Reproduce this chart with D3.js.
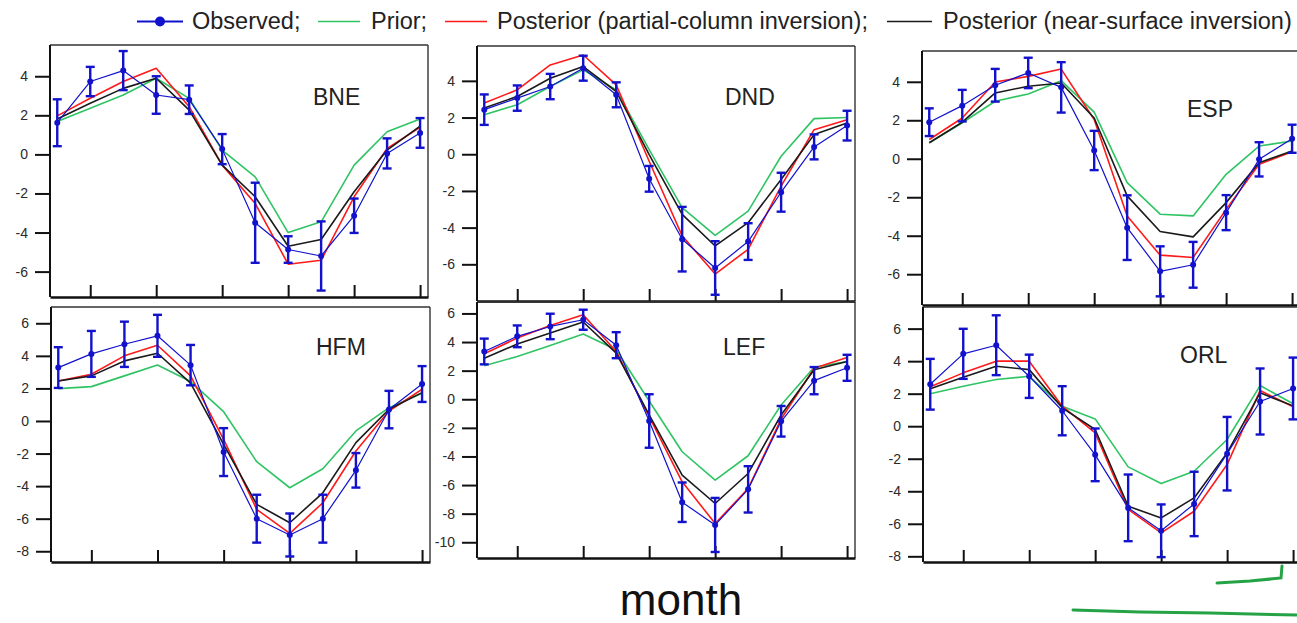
<!DOCTYPE html>
<html>
<head>
<meta charset="utf-8">
<script src="https://cdn.jsdelivr.net/npm/d3@7/dist/d3.min.js"></script>
<style>
body { margin: 0; background: #fff; }
svg { display: block; font-family: 'Liberation Sans', Arial, sans-serif; }
</style>
</head>
<body>
<div id="chart"></div>
<script>
var months = [1, 2, 3, 4, 5, 6, 7, 8, 9, 10, 11, 12]
var sites = ['BNE', 'DND', 'ESP', 'HFM', 'LEF', 'ORL']
var xTicks = [2, 4, 6, 8, 10, 12]

// observed monthly means (blue dots) and their error bar half-widths
var observed = {
    BNE: [1.62, 3.73, 4.29, 3.04, 2.8, 0.27, -3.5, -4.87, -5.2, -3.14, 0.05, 1.1],
    DND: [2.43, 3.06, 3.69, 4.69, 3.24, -1.34, -4.63, -6.2, -4.76, -2.07, 0.4, 1.56],
    ESP: [1.9, 2.76, 3.82, 4.46, 3.71, 0.43, -3.58, -5.85, -5.51, -2.8, -0.03, 1.04],
    HFM: [3.28, 4.12, 4.71, 5.23, 3.43, -1.91, -6.0, -7.0, -6.0, -3.03, 0.7, 2.27],
    LEF: [3.34, 4.4, 5.09, 5.56, 3.78, -1.52, -7.2, -8.79, -6.3, -1.54, 1.3, 2.2],
    ORL: [2.58, 4.45, 4.98, 3.07, 0.95, -1.76, -5.02, -6.43, -4.78, -1.69, 1.52, 2.32]
}
var observedErr = {
    BNE: [1.2, 0.75, 1.0, 0.96, 0.73, 0.77, 2.05, 0.68, 1.77, 0.88, 0.77, 0.76],
    DND: [0.83, 0.69, 0.69, 0.68, 0.68, 0.7, 1.76, 1.46, 1.0, 1.06, 0.68, 0.81],
    ESP: [0.72, 0.82, 0.85, 0.79, 1.31, 1.02, 1.68, 1.3, 1.19, 0.91, 0.89, 0.73],
    HFM: [1.25, 1.41, 1.39, 1.29, 1.24, 1.47, 1.47, 1.32, 1.47, 1.06, 1.15, 1.1],
    LEF: [0.9, 0.76, 0.89, 0.7, 0.91, 1.87, 1.38, 1.89, 1.62, 1.07, 0.95, 0.91],
    ORL: [1.56, 1.54, 1.84, 1.33, 1.51, 1.62, 2.05, 1.62, 1.98, 2.26, 2.03, 1.9]
}
var prior = {
    BNE: [1.68, 2.36, 3.04, 3.9, 2.87, 0.22, -1.15, -4.0, -3.45, -0.55, 1.16, 1.81],
    DND: [2.15, 2.7, 3.69, 4.6, 3.51, 0.25, -2.91, -4.42, -3.1, -0.11, 1.94, 2.0],
    ESP: [0.83, 1.87, 2.99, 3.37, 4.06, 2.42, -1.24, -2.88, -2.97, -0.81, 0.66, 0.92],
    HFM: [1.99, 2.11, 2.77, 3.44, 2.42, 0.57, -2.5, -4.1, -2.93, -0.61, 0.82, 1.7],
    LEF: [2.34, 2.99, 3.76, 4.56, 3.46, -0.12, -3.67, -5.65, -3.95, -0.4, 2.24, 2.64],
    ORL: [2.0, 2.46, 2.87, 3.07, 1.23, 0.45, -2.5, -3.52, -2.77, -0.82, 2.5, 1.38]
}
var postColumn = {
    BNE: [1.97, 2.87, 3.73, 4.41, 2.44, -0.55, -2.51, -5.62, -5.42, -2.17, 0.31, 1.38],
    DND: [2.79, 3.51, 4.87, 5.41, 3.78, -0.38, -4.45, -6.53, -5.18, -1.74, 1.34, 1.88],
    ESP: [1.0, 2.12, 3.99, 4.28, 4.66, 2.04, -2.97, -5.01, -5.13, -2.63, -0.29, 0.36],
    HFM: [2.46, 2.87, 4.0, 4.65, 2.77, -1.13, -5.43, -6.9, -5.02, -1.84, 0.61, 1.95],
    LEF: [3.18, 4.28, 5.16, 5.91, 3.34, -1.21, -5.77, -8.69, -6.24, -1.38, 2.17, 2.92],
    ORL: [2.42, 3.28, 4.0, 4.0, 1.23, -0.41, -5.12, -6.56, -5.23, -2.36, 2.19, 1.2]
}
var postSurface = {
    BNE: [1.81, 2.62, 3.38, 3.9, 2.27, -0.55, -2.17, -4.7, -4.36, -1.91, 0.22, 1.45],
    DND: [2.52, 3.15, 4.14, 4.78, 3.42, -0.02, -3.28, -5.0, -3.73, -1.38, 1.07, 1.7],
    ESP: [0.83, 1.9, 3.42, 3.77, 3.94, 2.12, -1.93, -3.78, -4.06, -2.28, -0.21, 0.4],
    HFM: [2.46, 2.77, 3.69, 4.16, 2.32, -1.43, -5.12, -6.25, -4.41, -1.33, 0.72, 1.74],
    LEF: [2.87, 3.86, 4.63, 5.4, 3.22, -1.1, -5.3, -7.29, -5.19, -1.1, 2.06, 2.64],
    ORL: [2.3, 3.01, 3.69, 3.48, 1.13, -0.2, -4.92, -5.64, -4.41, -1.64, 2.05, 1.25]
}
var yTicks = {
    BNE: [-6, -4, -2, 0, 2, 4],
    DND: [-6, -4, -2, 0, 2, 4],
    ESP: [-6, -4, -2, 0, 2, 4],
    HFM: [-8, -6, -4, -2, 0, 2, 4, 6],
    LEF: [-10, -8, -6, -4, -2, 0, 2, 4, 6],
    ORL: [-8, -6, -4, -2, 0, 2, 4, 6]
}
var legendLabels = ['Observed;', 'Prior;', 'Posterior (partial-column inversion);', 'Posterior (near-surface inversion)']

// panel boxes in page pixels, y range
var layout = {
    BNE: { left: 50, top: 45, width: 378, height: 252, yDomain: [-7.3, 5.6], label: [313, 105] },
    DND: { left: 477, top: 46, width: 378, height: 255, yDomain: [-8.0, 5.9], label: [725, 105] },
    ESP: { left: 922, top: 51, width: 378, height: 254, yDomain: [-7.6, 5.6], label: [1187, 117] },
    HFM: { left: 51, top: 307, width: 379, height: 255, yDomain: [-8.66, 7.0], label: [316, 355] },
    LEF: { left: 477, top: 302, width: 378, height: 256, yDomain: [-11.1, 6.8], label: [723, 355] },
    ORL: { left: 923, top: 307, width: 378, height: 255, yDomain: [-8.35, 7.33], label: [1180, 363] }
}

var colors = { obs: '#1212cc', prior: '#2fc463', column: '#ff1a1a', surface: '#1a1a1a' }

var width = 1297
var height = 623

var svg = d3.select('#chart').append('svg')
    .attr('width', width)
    .attr('height', height)

sites.forEach(function(site) {
    var box = layout[site]

    var x = d3.scaleLinear()
        .domain([0.78, 12.24])
        .range([0, box.width])

    var y = d3.scaleLinear()
        .domain(box.yDomain)
        .range([box.height, 0])

    var line = d3.line()
        .x(function(d, i) { return x(months[i]) })
        .y(function(d) { return y(d) })

    var g = svg.append('g')
        .attr('transform', 'translate(' + box.left + ',' + box.top + ')')

    // frame: top and right thin, left and bottom heavier
    g.append('line')
        .attr('x1', 0).attr('x2', box.width)
        .attr('y1', 0).attr('y2', 0)
        .attr('stroke', '#333').attr('stroke-width', 1.4)
    g.append('line')
        .attr('x1', box.width).attr('x2', box.width)
        .attr('y1', 0).attr('y2', box.height)
        .attr('stroke', '#333').attr('stroke-width', 1.4)

    var yAxis = g.append('g')
        .call(d3.axisLeft(y)
            .tickValues(yTicks[site])
            .tickSize(15)
            .tickSizeOuter(0)
            .tickPadding(7)
            .tickFormat(function(d) { return String(d) }))
    yAxis.select('.domain').remove()
    yAxis.selectAll('.tick line').attr('stroke', '#111').attr('stroke-width', 2)
    yAxis.selectAll('.tick text')
        .attr('fill', '#2a2a2a')
        .style('font-size', '14px')
        .style('font-family', "'Liberation Sans', Arial, sans-serif")

    g.append('line')
        .attr('x1', 0).attr('x2', 0)
        .attr('y1', 0).attr('y2', box.height)
        .attr('stroke', '#111').attr('stroke-width', 2)

    var xAxis = g.append('g')
        .attr('transform', 'translate(0,' + box.height + ')')
        .call(d3.axisBottom(x)
            .tickValues(xTicks)
            .tickSize(-12)
            .tickSizeOuter(0)
            .tickFormat(''))
    xAxis.select('.domain').attr('stroke', '#111').attr('stroke-width', 2.5)
    xAxis.selectAll('.tick line').attr('stroke', '#111').attr('stroke-width', 2)

    g.append('text')
        .attr('x', box.label[0] - box.left)
        .attr('y', box.label[1] - box.top)
        .attr('fill', '#222')
        .style('font-size', '23px')
        .text(site)

    var series = [
        { values: prior[site], color: colors.prior, w: 1.6 },
        { values: postColumn[site], color: colors.column, w: 1.6 },
        { values: postSurface[site], color: colors.surface, w: 1.6 },
        { values: observed[site], color: colors.obs, w: 1.2 }
    ]

    g.selectAll('path.series')
        .data(series)
        .enter().append('path')
        .attr('class', 'series')
        .attr('d', function(d) { return line(d.values) })
        .attr('fill', 'none')
        .attr('stroke', function(d) { return d.color })
        .attr('stroke-width', function(d) { return d.w })
        .attr('stroke-linejoin', 'round')

    // error bars
    var bars = g.append('g')
        .selectAll('g')
        .data(observed[site])
        .enter().append('g')
        .attr('stroke', colors.obs)
        .attr('stroke-width', 2.4)

    bars.append('line')
        .attr('x1', function(d, i) { return x(months[i]) })
        .attr('x2', function(d, i) { return x(months[i]) })
        .attr('y1', function(d, i) { return y(d + observedErr[site][i]) })
        .attr('y2', function(d, i) { return y(d - observedErr[site][i]) })
    bars.append('line')
        .attr('x1', function(d, i) { return x(months[i]) - 4.5 })
        .attr('x2', function(d, i) { return x(months[i]) + 4.5 })
        .attr('y1', function(d, i) { return y(d + observedErr[site][i]) })
        .attr('y2', function(d, i) { return y(d + observedErr[site][i]) })
    bars.append('line')
        .attr('x1', function(d, i) { return x(months[i]) - 4.5 })
        .attr('x2', function(d, i) { return x(months[i]) + 4.5 })
        .attr('y1', function(d, i) { return y(d - observedErr[site][i]) })
        .attr('y2', function(d, i) { return y(d - observedErr[site][i]) })

    g.append('g')
        .selectAll('circle')
        .data(observed[site])
        .enter().append('circle')
        .attr('cx', function(d, i) { return x(months[i]) })
        .attr('cy', function(d) { return y(d) })
        .attr('r', 3)
        .attr('fill', colors.obs)
})

// legend across the top
var legend = svg.append('g').attr('class', 'legend')
var legendItems = [
    { label: legendLabels[0], color: colors.obs, x1: 137, x2: 183, tx: 192, dot: true },
    { label: legendLabels[1], color: colors.prior, x1: 318, x2: 360, tx: 371 },
    { label: legendLabels[2], color: colors.column, x1: 445, x2: 487, tx: 497 },
    { label: legendLabels[3], color: colors.surface, x1: 887, x2: 932, tx: 943 }
]
legendItems.forEach(function(d) {
    legend.append('line')
        .attr('x1', d.x1).attr('x2', d.x2)
        .attr('y1', 21.5).attr('y2', 21.5)
        .attr('stroke', d.color)
        .attr('stroke-width', d.dot ? 2 : 1.6)
    if (d.dot) {
        legend.append('circle')
            .attr('cx', (d.x1 + d.x2) / 2)
            .attr('cy', 21.5)
            .attr('r', 5)
            .attr('fill', d.color)
    }
    legend.append('text')
        .attr('x', d.tx)
        .attr('y', 29)
        .attr('fill', '#222')
        .style('font-size', '23.5px')
        .text(d.label)
})

svg.append('text')
    .attr('x', 681)
    .attr('y', 615)
    .attr('text-anchor', 'middle')
    .attr('fill', '#111')
    .style('font-size', '44px')
    .text('month')

// hand-drawn green marks in the lower right corner
var scribbles = [
    [[1217, 583], [1250, 581], [1281, 578], [1282, 566]],
    [[1073, 610], [1140, 612], [1210, 613], [1297, 615]]
]
svg.selectAll('path.scribble')
    .data(scribbles)
    .enter().append('path')
    .attr('class', 'scribble')
    .attr('d', d3.line())
    .attr('fill', 'none')
    .attr('stroke', '#24a246')
    .attr('stroke-width', 3)
    .attr('stroke-linecap', 'round')
</script>
</body>
</html>
